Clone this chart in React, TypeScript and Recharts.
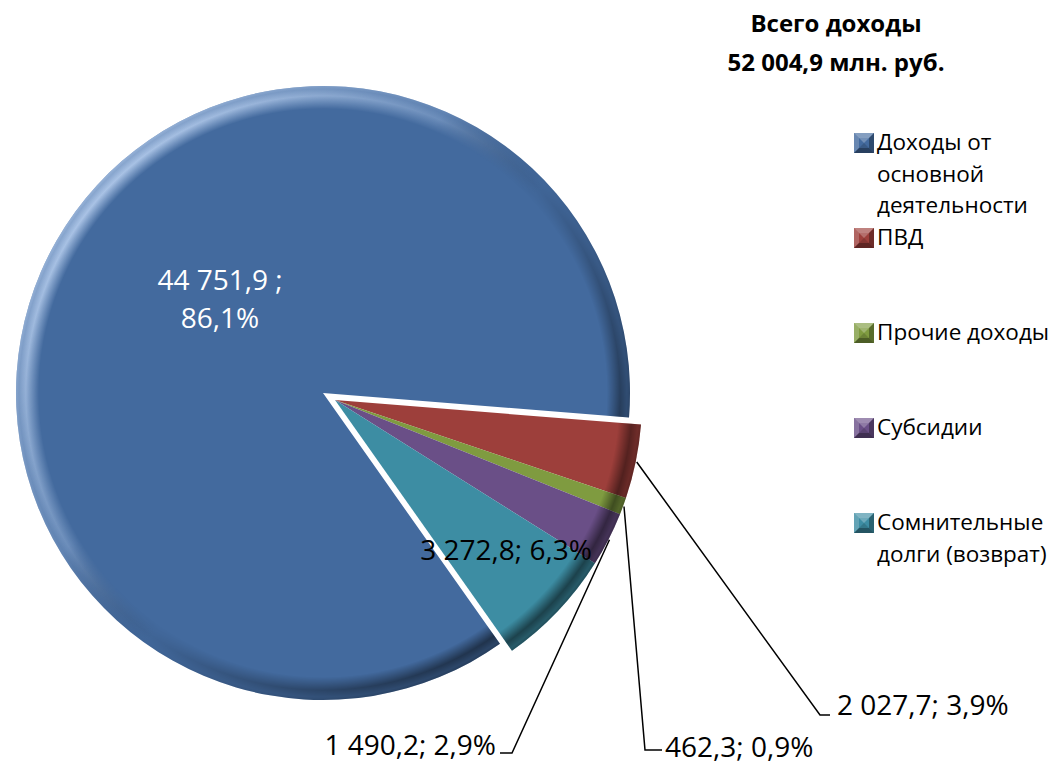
import React from 'react';
import { PieChart, Pie, Cell } from 'recharts';

// ---------------------------------------------------------------------------
// Data
// ---------------------------------------------------------------------------

const categories = [
  'Доходы от основной деятельности',
  'ПВД',
  'Прочие доходы',
  'Субсидии',
  'Сомнительные долги (возврат)',
];
const legendLines = [
  ['Доходы от', 'основной', 'деятельности'],
  ['ПВД'],
  ['Прочие доходы'],
  ['Субсидии'],
  ['Сомнительные', 'долги (возврат)'],
];
const values = [44751.9, 2027.7, 462.3, 1490.2, 3272.8];
const colors = ['#436A9E', '#9D3F3B', '#7F9B40', '#6A4F87', '#3D8DA3'];
const titleLines = ['Всего доходы', '52 004,9 млн. руб.'];

const total = values.reduce((a, b) => a + b, 0);
const data = categories.map((name, i) => ({ name, value: values[i] }));

// ---------------------------------------------------------------------------
// Layout
// ---------------------------------------------------------------------------

const W = 1056;
const H = 769;
const R = 307;
const START = 305.2;
const END = START - 360;
// main slice and the pulled-out group have separate centres
const CA = { x: 323, y: 393 };
const CB = { x: 335, y: 400 };
const FONT = "'Open Sans', sans-serif";
const RAD = Math.PI / 180;

// label placement, relative to the slice centre
const labelSpots: any[] = [
  { text: [-103, -103], anchor: 'middle' },
  { elbow: [485, 315], tick: [495, 315], text: [502, 315], anchor: 'start' },
  { elbow: [310, 350], tick: [327, 350], text: [330, 357], anchor: 'start' },
  { elbow: [177, 353], tick: [165, 353], text: [161, 355], anchor: 'end' },
  { text: [171, 160], anchor: 'middle' },
];

function fmt(v: number): string {
  const [int, dec] = v.toFixed(1).split('.');
  return int.replace(/\B(?=(\d{3})+(?!\d))/g, ' ') + ',' + dec;
}
function pct(v: number): string {
  return ((v / total) * 100).toFixed(1).replace('.', ',') + '%';
}

const renderLabel = (group: 'A' | 'B') => (props: any) => {
  const { cx, cy, midAngle, outerRadius, index } = props;
  if ((group === 'A') !== (index === 0)) return <g />;
  const spot = labelSpots[index];
  const v = values[index];
  if (index === 0) {
    return (
      <g>
        <text x={cx + spot.text[0]} y={cy + spot.text[1]} textAnchor="middle" fill="#fff" fontSize={28} fontFamily={FONT}>
          {fmt(v) + ' ;'}
        </text>
        <text x={cx + spot.text[0]} y={cy + spot.text[1] + 38} textAnchor="middle" fill="#fff" fontSize={28} fontFamily={FONT}>
          {pct(v)}
        </text>
      </g>
    );
  }
  const label = fmt(v) + '; ' + pct(v);
  const tx = cx + spot.text[0];
  const ty = cy + spot.text[1];
  let line = null;
  if (spot.elbow) {
    const sx = cx + (outerRadius + 1) * Math.cos(-midAngle * RAD);
    const sy = cy + (outerRadius + 1) * Math.sin(-midAngle * RAD);
    line = (
      <polyline
        points={`${sx},${sy} ${cx + spot.elbow[0]},${cy + spot.elbow[1]} ${cx + spot.tick[0]},${cy + spot.tick[1]}`}
        fill="none"
        stroke="#000"
        strokeWidth={1.5}
      />
    );
  }
  return (
    <g>
      {line}
      <text x={tx} y={ty} textAnchor={spot.anchor} fill="#000" fontSize={28} fontFamily={FONT}>
        {label}
      </text>
    </g>
  );
};

// ---------------------------------------------------------------------------
// Bevel defs (rim light / shadow)
// ---------------------------------------------------------------------------

const BevelDefs: React.FC = () => (
  <svg width={0} height={0} style={{ position: 'absolute' }}>
    <defs>
      {[
        { id: 'A', c: CA },
        { id: 'B', c: CB },
      ].map(({ id, c }) => (
        <React.Fragment key={id}>
          <radialGradient id={`ring${id}`} gradientUnits="userSpaceOnUse" cx={c.x} cy={c.y} r={R}>
            <stop offset="0.925" stopColor="#000" />
            <stop offset="0.968" stopColor="#fff" />
            <stop offset="0.99" stopColor="#aaa" />
            <stop offset="1" stopColor="#ccc" />
          </radialGradient>
          <mask id={`ringMask${id}`} maskUnits="userSpaceOnUse" x={0} y={0} width={W} height={H}>
            <rect x={0} y={0} width={W} height={H} fill={`url(#ring${id})`} />
          </mask>
          <linearGradient
            id={`light${id}`}
            gradientUnits="userSpaceOnUse"
            x1={c.x - 230}
            y1={c.y - 200}
            x2={c.x + 230}
            y2={c.y + 200}
          >
            <stop offset="0" stopColor="#cfe3ff" stopOpacity={0.75} />
            <stop offset="0.35" stopColor="#cfe3ff" stopOpacity={0.3} />
            <stop offset="0.55" stopColor="#000" stopOpacity={0.05} />
            <stop offset="1" stopColor="#000" stopOpacity={0.55} />
          </linearGradient>
        </React.Fragment>
      ))}
    </defs>
  </svg>
);

// ---------------------------------------------------------------------------
// Legend marker
// ---------------------------------------------------------------------------

const Marker: React.FC<{ color: string }> = ({ color }) => (
  <svg width={20} height={20} style={{ position: 'absolute', left: 0, top: 0 }}>
    <rect x={0} y={0} width={20} height={20} fill={color} />
    <polygon points="0,0 20,0 15,5 5,5" fill="#fff" opacity={0.35} />
    <polygon points="0,0 5,5 5,15 0,20" fill="#fff" opacity={0.2} />
    <polygon points="20,0 20,20 15,15 15,5" fill="#000" opacity={0.3} />
    <polygon points="0,20 20,20 15,15 5,15" fill="#000" opacity={0.4} />
    <polygon points="5,5 15,5 10,10" fill="#fff" opacity={0.25} />
    <polygon points="5,15 15,15 10,10" fill="#000" opacity={0.15} />
  </svg>
);

// ---------------------------------------------------------------------------
// App
// ---------------------------------------------------------------------------

const pieCommon = {
  dataKey: 'value',
  outerRadius: R,
  startAngle: START,
  endAngle: END,
  stroke: 'none',
  isAnimationActive: false,
  labelLine: false,
};

export default function App() {
  return (
    <div style={{ position: 'relative', width: W, height: H, fontFamily: FONT, background: '#fff' }}>
      <style>{`body { margin: 0; } path.ov-A { mask: url(#ringMaskA); } path.ov-B { mask: url(#ringMaskB); }`}</style>
      <BevelDefs />
      <PieChart width={W} height={H} margin={{ top: 0, right: 0, bottom: 0, left: 0 }}>
        <Pie {...pieCommon} data={data} cx={CA.x} cy={CA.y} label={renderLabel('A')}>
          {data.map((d, i) => (
            <Cell key={d.name} fill={i === 0 ? colors[i] : 'none'} />
          ))}
        </Pie>
        <Pie {...pieCommon} data={data} cx={CB.x} cy={CB.y} label={renderLabel('B')}>
          {data.map((d, i) => (
            <Cell key={d.name} fill={i === 0 ? 'none' : colors[i]} />
          ))}
        </Pie>
        <Pie {...pieCommon} data={data} cx={CA.x} cy={CA.y} label={false}>
          {data.map((d, i) => (
            <Cell key={d.name} className="ov-A" fill={i === 0 ? 'url(#lightA)' : 'none'} />
          ))}
        </Pie>
        <Pie {...pieCommon} data={data} cx={CB.x} cy={CB.y} label={false}>
          {data.map((d, i) => (
            <Cell key={d.name} className="ov-B" fill={i === 0 ? 'none' : 'url(#lightB)'} />
          ))}
        </Pie>
      </PieChart>

      <div
        style={{
          position: 'absolute',
          left: 686,
          top: 3,
          width: 300,
          textAlign: 'center',
          fontWeight: 700,
          fontSize: 24,
          lineHeight: '39px',
          color: '#000',
        }}
      >
        {titleLines.map((t) => (
          <div key={t}>{t}</div>
        ))}
      </div>

      <div style={{ position: 'absolute', left: 854, top: 126, width: 202 }}>
        {legendLines.map((lines, i) => (
          <div key={categories[i]} style={{ position: 'relative', height: 95 }}>
            <div style={{ position: 'absolute', left: 0, top: 7, width: 20, height: 20 }}>
              <Marker color={colors[i]} />
            </div>
            <div
              style={{
                position: 'absolute',
                left: 23,
                top: 0,
                fontSize: 22.5,
                lineHeight: '31.5px',
                whiteSpace: 'nowrap',
                color: '#000',
              }}
            >
              {lines.map((l) => (
                <div key={l}>{l}</div>
              ))}
            </div>
          </div>
        ))}
      </div>
    </div>
  );
}
